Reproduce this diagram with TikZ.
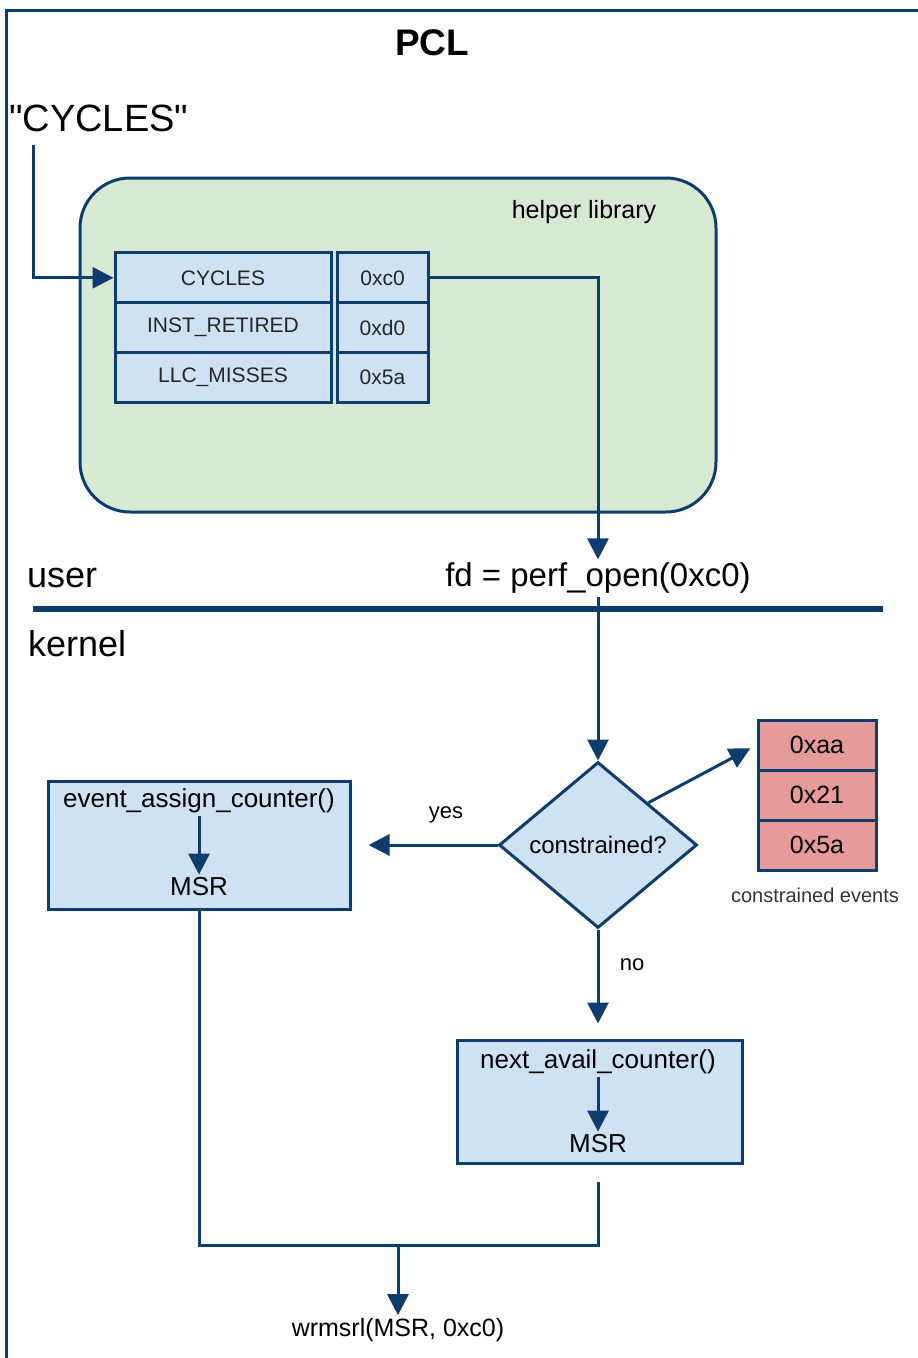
\documentclass[tikz,border=0pt]{standalone}
\usepackage{fontspec}
\setmainfont{Liberation Sans}
\newfontfamily\plainsans{Liberation Sans}
\usetikzlibrary{shapes.geometric,arrows.meta}
\definecolor{edge}{RGB}{14,60,108}
\definecolor{bluefill}{RGB}{207,226,243}
\definecolor{greenfill}{RGB}{215,232,211}
\definecolor{redfill}{RGB}{230,154,154}
\newcommand{\fs}[1]{\fontsize{#1}{#1}\selectfont}
\tikzset{
  conn/.style={draw=edge, line width=3pt},
  arr/.style={conn, -{Triangle[length=21pt,width=21pt]}},
  cell/.style={draw=edge, line width=3pt, fill=bluefill, inner sep=0pt, font=\fs{21}, text=black!85},
  redcell/.style={draw=edge, line width=3pt, fill=redfill, inner sep=0pt, font=\fs{25}, minimum width=118pt, minimum height=50pt},
  procbox/.style={draw=edge, line width=3pt, fill=bluefill, inner sep=0pt},
  lbl/.style={inner sep=3pt}
}
\begin{document}
\begin{tikzpicture}[x=1pt,y=-1pt]
\useasboundingbox (0,0) rectangle (918,1358);
% frame
\draw[edge, line width=3pt] (918,10.5) -- (6.5,10.5) -- (6.5,1358);
\node[lbl, font=\bfseries\fs{37}] (title) at (432,43) {PCL};
\node[lbl, anchor=west, inner sep=0pt, font=\plainsans\fs{38}] (quote) at (9,118) {"CYCLES"};
\coordinate (qs) at (33,145);
% helper library
\node[draw=edge, line width=3pt, fill=greenfill, rounded corners=50pt, minimum width=636pt, minimum height=334pt, inner sep=0pt] (lib) at (398,345) {};
\node[lbl, font=\fs{25}] (libl) at (584,212) {helper library};
\node[cell, minimum width=216pt, minimum height=49.7pt] (c1) at (223,277.8) {CYCLES};
\node[cell, minimum width=216pt, minimum height=49.7pt] (c2) at (223,327.5) {INST\_RETIRED};
\node[cell, minimum width=216pt, minimum height=49.7pt] (c3) at (223,377.2) {LLC\_MISSES};
\node[cell, minimum width=91pt, minimum height=49.7pt] (v1) at (382.5,277.8) {0xc0};
\node[cell, minimum width=91pt, minimum height=49.7pt] (v2) at (382.5,327.5) {0xd0};
\node[cell, minimum width=91pt, minimum height=49.7pt] (v3) at (382.5,377.2) {0x5a};
\draw[arr] (qs) |- (c1.west);
% user / kernel
\node[lbl, font=\fs{33}] (fd) at (598,578) {fd = perf\_open(0xc0)};
\draw[arr] (v1.east) -| (fd.north);
\node[lbl, anchor=west, inner sep=0pt, font=\fs{36}] (user) at (27,578) {user};
\node[lbl, anchor=west, inner sep=0pt, font=\fs{36}] (kernel) at (28,644) {kernel};
\coordinate (divl) at (33,609);
\coordinate (divr) at (883,609);
\draw[edge, line width=6pt] (divl) -- (divr);
% decision
\node[diamond, draw=edge, line width=3pt, fill=bluefill, inner sep=0pt, minimum width=198pt, minimum height=166pt, aspect=1.19, font=\fs{24}] (cd) at (598,845) {constrained?};
\draw[arr] (fd.south) -- (cd.north);
% constrained events
\node[redcell] (r1) at (817,745) {0xaa};
\node[redcell] (r2) at (817,795) {0x21};
\node[redcell] (r3) at (817,845) {0x5a};
\node[lbl, font=\fs{20}, text=black!80] (cel) at (815,895) {constrained events};
\draw[arr, shorten >=7pt] (cd.north east) -- (r1.west);
% yes branch
\node[procbox, minimum width=302pt, minimum height=128pt] (lb) at (199,845) {};
\node[lbl, font=\fs{26}] (ea) at (199,801) {event\_assign\_counter()};
\node[lbl, font=\fs{26}] (m1) at (199,887) {MSR};
\draw[arr] (ea.south) -- (m1.north);
\draw[arr, shorten >=17pt] (cd.west) -- (cd.west -| lb.east);
\node[lbl, font=\fs{22}] (yes) at (446,815) {yes};
% no branch
\node[procbox, minimum width=285pt, minimum height=123pt] (rb) at (599.5,1101.5) {};
\node[lbl, font=\fs{26}] (na) at (598,1062) {next\_avail\_counter()};
\node[lbl, font=\fs{26}] (m2) at (598,1144) {MSR};
\draw[arr] (na.south) -- (m2.north);
\draw[arr, shorten >=15pt] (cd.south) -- (cd.south |- rb.north);
\node[lbl, font=\fs{22}] (no) at (632,965) {no};
% join
\coordinate (j) at (398,1245);
\node[lbl, font=\fs{25}] (wr) at (398,1330) {wrmsrl(MSR, 0xc0)};
\draw[conn] (lb.south) |- (j);
\draw[conn, shorten <=17pt] (cd.south |- rb.south) |- (j);
\draw[arr] (j) -- (wr.north);
\end{tikzpicture}
\end{document}
